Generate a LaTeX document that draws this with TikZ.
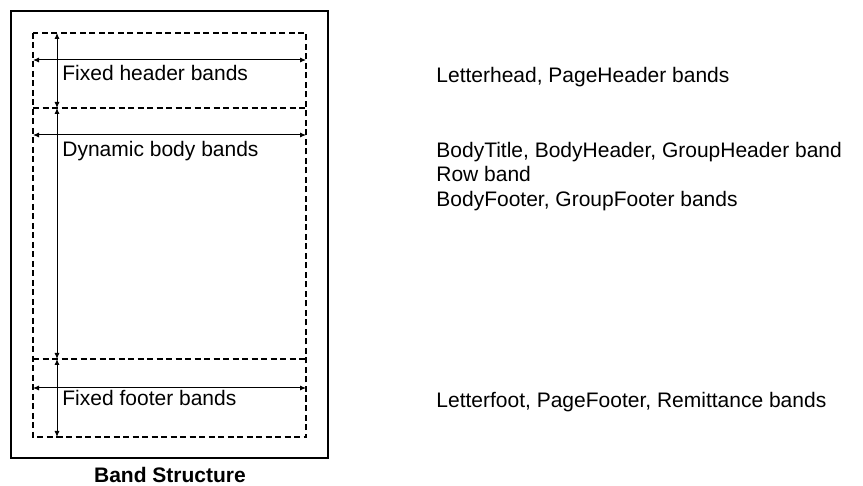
\documentclass[tikz,border=0pt]{standalone}
\usepackage{fontspec}
\setmainfont{Liberation Sans}
\usetikzlibrary{arrows.meta}

\begin{document}
\begin{tikzpicture}[x=0.5pt, y=-0.5pt,
    band/.style={dash pattern=on 3pt off 1.75pt, line width=0.9pt},
    dim/.style={{Latex[length=3pt,width=2.6pt]}-{Latex[length=3pt,width=2.6pt]}, line width=0.5pt},
    lbl/.style={anchor=base west, inner sep=0pt, font=\fontsize{10.5}{12.35}\selectfont}]
    \useasboundingbox (0,0) rectangle (863,486);

    % page
    \draw[line width=1pt] (11,11) rectangle (328,458);

    % bands
    \draw[band] (33,33) rectangle (306,437);
    \draw[band] (33,108) -- (306,108);
    \draw[band] (33,359) -- (306,359);

    % heights
    \coordinate (v0) at (57,33);
    \coordinate (v1) at (57,108);
    \coordinate (v2) at (57,359);
    \coordinate (v3) at (57,437);
    \draw[dim] (v0) -- (v1);
    \draw[dim] (v1) -- (v2);
    \draw[dim] (v2) -- (v3);

    % widths
    \foreach \n/\y in {hd/60, body/135, ft/388} {
        \coordinate (\n l) at (33,\y);
        \coordinate (\n r) at (306,\y);
        \draw[dim] (\n l) -- (\n r);
    }

    \node[lbl] (hdtxt)   at (62,80.5)  {Fixed header bands};
    \node[lbl] (bodytxt) at (62,156.5) {Dynamic body bands};
    \node[lbl] (fttxt)   at (62,406)   {Fixed footer bands};

    \node[lbl] (hdlist) at (436,82.5)  {Letterhead, PageHeader bands};
    \node[lbl] (bodyl1) at (436,157.5) {BodyTitle, BodyHeader, GroupHeader band};
    \node[lbl] (bodyl2) at (436,182)   {Row band};
    \node[lbl] (bodyl3) at (436,206.5) {BodyFooter, GroupFooter bands};
    \node[lbl] (ftlist) at (436,408)   {Letterfoot, PageFooter, Remittance bands};

    \node[lbl, anchor=base, font=\fontsize{10.5}{12.35}\selectfont\bfseries] (caption) at (170,482) {Band Structure};
\end{tikzpicture}
\end{document}
